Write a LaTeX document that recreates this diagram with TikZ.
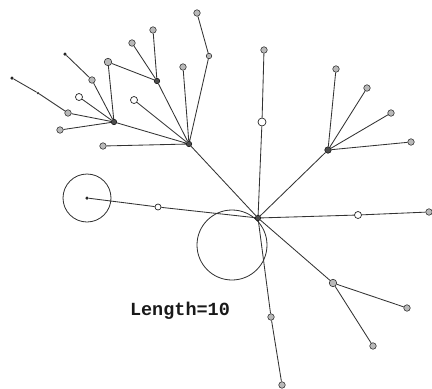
\documentclass[tikz,border=0pt]{standalone}
\usepackage{fontspec}
\newfontfamily\monof{Liberation Mono}
\begin{document}
\begin{tikzpicture}[x=1pt,y=-1pt,
  edge/.style={draw=gray!40!black,line width=0.85pt},
  leaf/.style={circle,draw=gray!40!black,fill=gray!55,line width=0.6pt,inner sep=0pt,minimum size=6.5pt},
  openn/.style={circle,draw=gray!30!black,fill=white,line width=0.7pt,inner sep=0pt,minimum size=7pt},
  dotn/.style={circle,fill=gray!30!black,inner sep=0pt,minimum size=3.5pt},
  hub/.style={circle,draw=gray!20!black,fill=gray!60!black,line width=0.6pt,inner sep=0pt,minimum size=5.5pt},
  ring/.style={circle,draw=gray!35!black,line width=0.8pt,inner sep=0pt}]
\useasboundingbox (0,0) rectangle (432,389);
% rings
\node[ring,minimum size=70pt] (bigc) at (232,245) {};
\node[ring,minimum size=48pt] (smallc) at (87,198) {};
% nodes
\node[hub] (C) at (258,218) {};
\node[hub] (H1) at (189,144) {};
\node[hub] (H2) at (114,122) {};
\node[hub] (H3) at (157,81) {};
\node[hub,minimum size=6.5pt] (H4) at (328,150) {};
\node[leaf,minimum size=7.5pt] (H5) at (333,283) {};
\node[leaf] (a1) at (103,146) {};
\node[leaf] (a2) at (183,67) {};
\node[openn] (a3) at (134,100) {};
\node[leaf,minimum size=5.5pt] (a4) at (209,56) {};
\node[leaf] (a5) at (197,13) {};
\node[leaf] (b1) at (153,30) {};
\node[leaf] (b2) at (132,43) {};
\node[leaf,minimum size=7.5pt] (b3) at (108,62) {};
\node[openn] (c1) at (79,97) {};
\node[leaf] (c2) at (92,80) {};
\node[dotn] (c3) at (65,54) {};
\node[leaf] (c4) at (68,113) {};
\node[dotn,minimum size=2.5pt] (c5) at (38,93) {};
\node[dotn] (c6) at (12,78) {};
\node[leaf] (c7) at (60,130) {};
\node[leaf] (d1) at (336,69) {};
\node[leaf] (d2) at (367,88) {};
\node[leaf] (d3) at (391,113) {};
\node[leaf] (d4) at (411,142) {};
\node[openn,minimum size=8pt] (v1) at (262,122) {};
\node[leaf] (v2) at (264,50) {};
\node[openn] (r1) at (358,215) {};
\node[leaf] (r2) at (429,212) {};
\node[leaf] (e1) at (407,308) {};
\node[leaf] (e2) at (373,346) {};
\node[leaf] (f1) at (271,317) {};
\node[leaf] (f2) at (282,385) {};
\node[openn,minimum size=6pt] (l1) at (158,207) {};
\node[dotn] (l2) at (87,198) {};
% edges
\path[edge] (C)--(H1) (C)--(H4) (C)--(v1) (v1)--(v2) (C)--(r1) (r1)--(r2)
  (C)--(H5) (H5)--(e1) (H5)--(e2) (C)--(f1) (f1)--(f2) (C)--(l1) (l1)--(l2)
  (H1)--(a1) (H1)--(H2) (H1)--(a2) (H1)--(a3) (H1)--(H3) (H1)--(a4) (a4)--(a5)
  (H3)--(b1) (H3)--(b2) (H3)--(b3) (H2)--(b3)
  (H2)--(c1) (H2)--(c2) (c2)--(c3) (H2)--(c4) (c4)--(c5) (c5)--(c6) (H2)--(c7)
  (H4)--(d1) (H4)--(d2) (H4)--(d3) (H4)--(d4);
% label
\node[font=\monof\bfseries\fontsize{18.5}{18.5}\selectfont,text=gray!20!black,inner sep=0pt] (lbl) at (180,311) {Length=10};
\end{tikzpicture}
\end{document}
